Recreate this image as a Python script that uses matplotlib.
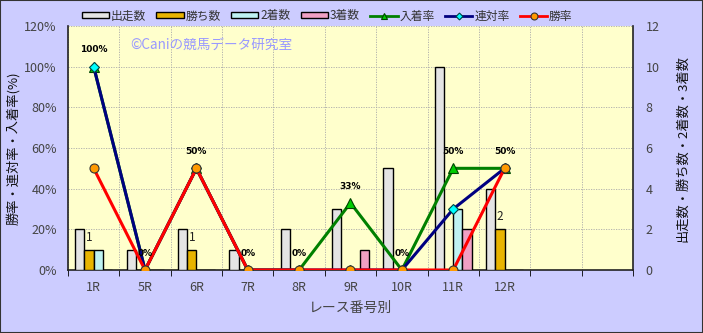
import matplotlib
matplotlib.use("Agg")
import matplotlib.pyplot as plt
import numpy as np
from matplotlib.lines import Line2D
from matplotlib.patches import Patch, Rectangle

plt.rcParams["font.family"] = ["Noto Sans CJK JP", "DejaVu Sans"]

# categories (11 slots, last two empty)
races = ["1R", "5R", "6R", "7R", "8R", "9R", "10R", "11R", "12R", "", ""]

# counts (right axis)
starters = [2, 1, 2, 1, 2, 3, 5, 10, 4]
wins = [1, 0, 1, 0, 0, 0, 0, 0, 2]
seconds = [1, 0, 0, 0, 0, 0, 0, 3, 0]
thirds = [0, 0, 0, 0, 0, 1, 0, 2, 0]

# rates in % (left axis)
place_rate = [100, 0, 50, 0, 0, 33, 0, 50, 50]
quinella_rate = [100, 0, 50, 0, 0, 0, 0, 30, 50]
win_rate = [50, 0, 50, 0, 0, 0, 0, 0, 50]
place_labels = ["100%", "0%", "50%", "0%", "0%", "33%", "0%", "50%", "50%"]

BG = "#CCCCFF"
PLOT_BG = "#FFFFCC"
BAR_COLORS = ["#E4E4E4", "#E8B400", "#BFF2F2", "#F0A0C4"]
BAR_NAMES = ["出走数", "勝ち数", "2着数", "3着数"]

fig = plt.figure(figsize=(7.03, 3.33), dpi=100, facecolor=BG)
ax = fig.add_axes([68 / 703, 63 / 333, 565 / 703, 244 / 333])
ax.set_facecolor(PLOT_BG)
ax2 = ax.twinx()
ax.set_zorder(1)
ax2.set_zorder(2)
ax2.patch.set_visible(False)

x = np.arange(len(starters))
bw = 0.18
offsets = [-1.5 * bw, -0.5 * bw, 0.5 * bw, 1.5 * bw]
for vals, col, off in zip([starters, wins, seconds, thirds], BAR_COLORS, offsets):
    ax.bar(x + off, vals, width=bw, color=col, edgecolor="black", linewidth=1.0, zorder=3)

# labels on win counts
for xi, w in zip(x, wins):
    if w > 0:
        ax.annotate(str(w), (xi + offsets[1], w), xytext=(0, 9), textcoords="offset points",
                    ha="center", va="center", fontsize=8.5, color="#222222", zorder=5)

ax.set_xlim(-0.5, len(races) - 0.5)
ax.set_ylim(0, 12)
ax.set_yticks(np.arange(0, 13, 2))
ax.yaxis.tick_right()
ax.yaxis.set_label_position("right")
ax.set_xticks(np.arange(len(races)))
ax.set_xticklabels(races)
ax.set_xticks(np.arange(len(races) + 1) - 0.5, minor=True)
ax.tick_params(axis="x", which="major", length=0, pad=8, labelsize=9, labelcolor="#444444")
ax.tick_params(axis="x", which="minor", length=4, direction="out")
ax.tick_params(axis="y", length=0, pad=9, labelsize=9, labelcolor="#444444")
ax.grid(True, axis="x", which="minor", linestyle=(0, (1.5, 1.5)), color="#AAAAAA", linewidth=0.6, zorder=0)
ax.grid(True, axis="y", which="major", linestyle=(0, (1.5, 1.5)), color="#AAAAAA", linewidth=0.6, zorder=0)
ax.set_axisbelow(True)
ax.spines["top"].set_visible(False)
for s in ["left", "right", "bottom"]:
    ax.spines[s].set_color("#222222")
    ax.spines[s].set_linewidth(1.2)
ax.set_ylabel("出走数・勝ち数・2着数・3着数", rotation=90, fontsize=9.5, labelpad=12, color="#111111")
ax.set_xlabel("レース番号別", fontsize=10, labelpad=5, color="#444444")

ax2.set_ylim(0, 120)
ax2.set_yticks(np.arange(0, 121, 20))
ax2.set_yticklabels([f"{v}%" for v in range(0, 121, 20)])
ax2.yaxis.tick_left()
ax2.yaxis.set_label_position("left")
ax2.tick_params(axis="y", length=0, pad=8, labelsize=9, labelcolor="#444444")
for s in ax2.spines.values():
    s.set_visible(False)
ax2.set_ylabel("勝率・連対率・入着率(%)", fontsize=9.5, labelpad=3, color="#111111")

lx = np.arange(len(place_rate))
ax2.plot(lx, place_rate, color="#008000", linewidth=2.2, marker="^", markersize=7,
         markerfacecolor="#00CC00", markeredgecolor="#004400", markeredgewidth=0.8, zorder=3)
ax2.plot(lx, quinella_rate, color="#000080", linewidth=2.2, marker="D", markersize=5,
         markerfacecolor="#00FFFF", markeredgecolor="#004444", markeredgewidth=0.8, zorder=4)
ax2.plot(lx, win_rate, color="#FF0000", linewidth=2.2, marker="o", markersize=6.5,
         markerfacecolor="#FF9900", markeredgecolor="#333333", markeredgewidth=0.8, zorder=5)

for xi, v, lab in zip(lx, place_rate, place_labels):
    ax2.annotate(lab, (xi, v), xytext=(0, 12), textcoords="offset points", ha="center",
                 va="center", fontsize=6.5, fontweight="bold", color="black",
                 family=["DejaVu Sans"], zorder=6)

ax2.text(0.11, 0.925, "©Caniの競馬データ研究室", transform=ax2.transAxes, fontsize=9.8,
         color="#9999FF", ha="left", va="center")

handles = [Patch(facecolor=c, edgecolor="black", linewidth=1.0) for c in BAR_COLORS]
handles += [
    Line2D([], [], color="#008000", linewidth=2.0, marker="^", markersize=5,
           markerfacecolor="#00CC00", markeredgecolor="#004400", markeredgewidth=0.8),
    Line2D([], [], color="#000080", linewidth=2.0, marker="D", markersize=3.5,
           markerfacecolor="#00FFFF", markeredgecolor="#004444", markeredgewidth=0.8),
    Line2D([], [], color="#FF0000", linewidth=2.0, marker="o", markersize=5,
           markerfacecolor="#FF9900", markeredgecolor="#333333", markeredgewidth=0.8),
]
names = BAR_NAMES + ["入着率", "連対率", "勝率"]
fig.legend(handles, names, loc="center", bbox_to_anchor=(327 / 703, 1 - 16 / 333), ncol=7,
           frameon=False, fontsize=8.5, handlelength=2.3, handleheight=0.45, handletextpad=0.15,
           columnspacing=0.9, labelcolor="#333333")

fig.patches.append(Rectangle((0, 0), 1, 1, transform=fig.transFigure, fill=False,
                             edgecolor="#333333", linewidth=1.5))

fig.savefig("out.png", dpi=100, facecolor=BG)
